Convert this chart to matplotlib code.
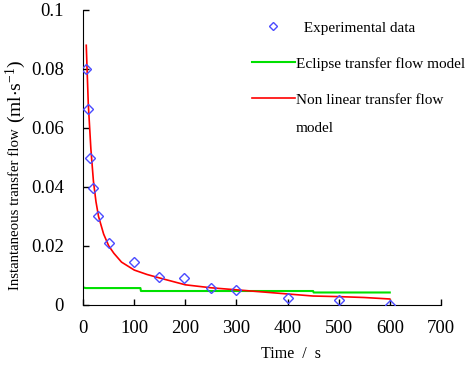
import matplotlib
matplotlib.use("Agg")
import matplotlib.pyplot as plt

plt.rcParams['font.family'] = ['Liberation Serif', 'DejaVu Serif']
plt.rcParams['mathtext.fontset'] = 'stix'

# experimental data
exp_t = [5, 10, 13, 20, 29, 50, 100, 149, 198, 251, 300, 400, 500, 600]
exp_q = [0.0798, 0.0663, 0.0499, 0.0396, 0.0300, 0.0209, 0.0147, 0.0096, 0.0090,
         0.0057, 0.0051, 0.0023, 0.0017, 0.0]

# eclipse transfer flow model
ecl_t = [0, 5, 112, 113, 450, 451, 600]
ecl_q = [0.0059, 0.0057, 0.0057, 0.0047, 0.0047, 0.0042, 0.0042]

# non linear transfer flow model
nl_t = [6, 8, 10, 15, 20, 25, 30, 40, 50, 60, 75, 100, 125, 150, 200, 250, 300,
        350, 400, 450, 500, 550, 600]
nl_q = [0.088, 0.078, 0.068, 0.053, 0.042, 0.035, 0.030, 0.024, 0.020, 0.0175,
        0.0145, 0.0118, 0.0103, 0.0091, 0.0068, 0.0058, 0.0051, 0.0044, 0.0037,
        0.0030, 0.0028, 0.0025, 0.0020]

fig = plt.figure(figsize=(4.7, 3.66), dpi=100)
ax = fig.add_axes([0.177, 0.167, 0.761, 0.806])

ax.plot(exp_t, exp_q, linestyle='none', marker='D', ms=5.5, mfc='none',
        mec='#4b4bff', mew=1.0, label='  Experimental data', zorder=3)
ax.plot(ecl_t, ecl_q, color='#00e000', lw=1.5, label='Eclipse transfer flow model')
ax.plot(nl_t, nl_q, color='#ff0000', lw=1.2, label='Non linear transfer flow')

ax.set_xlim(0, 700)
ax.set_ylim(0, 0.1)
ax.set_xticks([0, 100, 200, 300, 400, 500, 600, 700])
ax.set_yticks([0, 0.02, 0.04, 0.06, 0.08, 0.1])
ax.set_yticklabels(['0', '0.02', '0.04', '0.06', '0.08', '0.1'])
ax.tick_params(direction='in', labelsize=13.5, length=4, width=1)
ax.tick_params(axis='x', pad=11)
ax.tick_params(axis='y', pad=14)
ax.spines['top'].set_visible(False)
ax.spines['right'].set_visible(False)

ax.set_xlabel('Time  /  s', fontsize=11.5)
ax.xaxis.set_label_coords(0.58, -0.14)

# y label: main text plus larger unit part
fig.text(0.032, 0.208, 'Instantaneous transfer flow', rotation=90,
         ha='center', va='bottom', fontsize=10.7)
fig.text(0.034, 0.664, r'$\mathregular{(ml{\cdot}s^{-1})}$', rotation=90,
         ha='center', va='bottom', fontsize=14)

leg = ax.legend(loc='upper left', bbox_to_anchor=(0.472, 0.962), frameon=False,
                fontsize=11, handlelength=2.8, labelspacing=1.45,
                handletextpad=0.05, borderpad=0, borderaxespad=0, markerscale=0.7)

# second line of the last legend label, set a bit lower than usual
fig.canvas.draw()
bb = leg.get_texts()[2].get_window_extent().transformed(fig.transFigure.inverted())
fig.text(bb.x0, bb.y0 - 0.077, 'model', fontsize=11, ha='left', va='bottom')

fig.savefig('out.png', dpi=100)
